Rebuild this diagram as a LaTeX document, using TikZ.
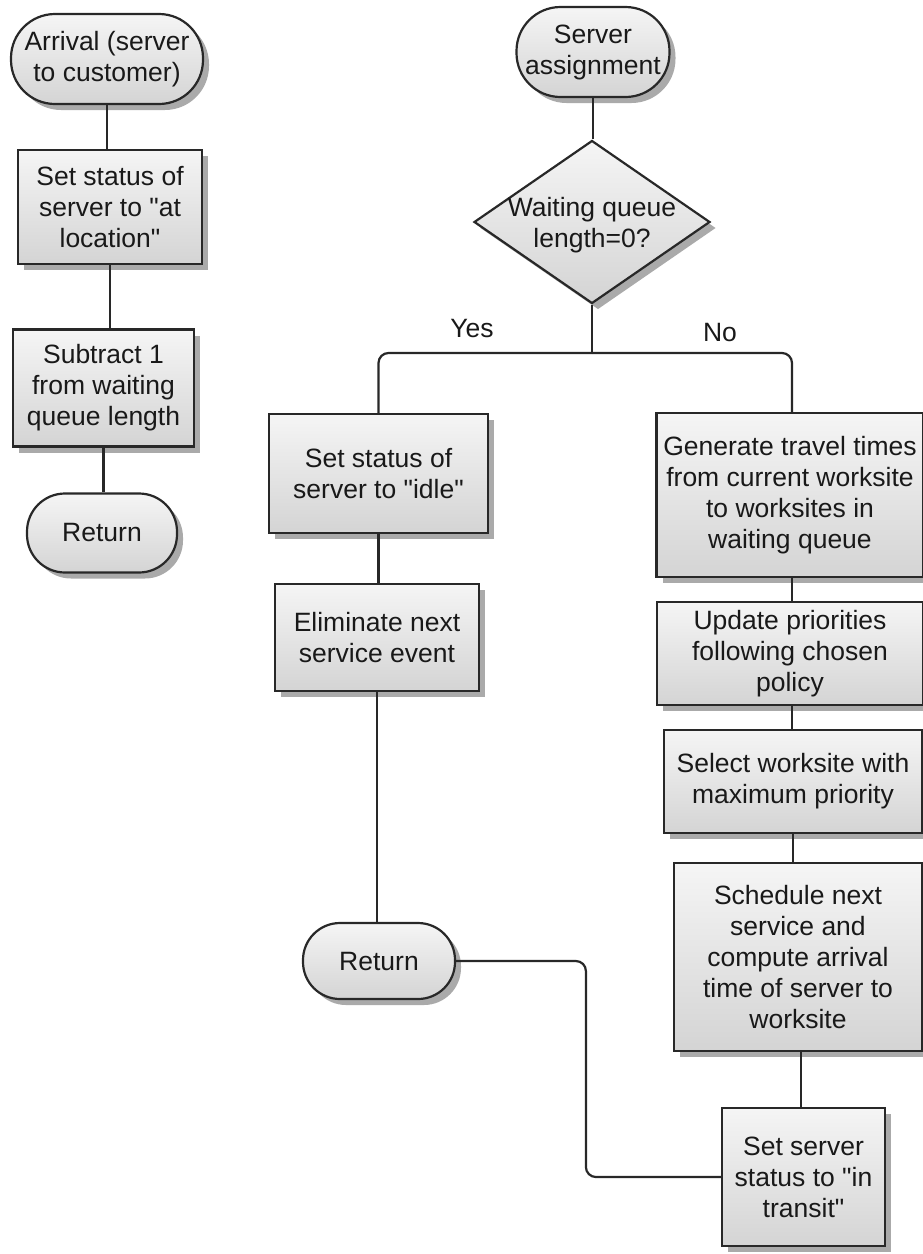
\documentclass[tikz,border=0pt]{standalone}
\usepackage{fontspec}
\setmainfont{Liberation Sans}
\usetikzlibrary{shapes.geometric,shadows}
\definecolor{boxtop}{RGB}{245,245,245}
\definecolor{boxbot}{RGB}{212,212,212}
\definecolor{edgec}{RGB}{40,40,40}
\definecolor{shad}{RGB}{170,170,170}
\newcommand{\dq}{\textquotedbl}
\begin{document}
\begin{tikzpicture}[x=1pt,y=-1pt,
  base/.style={draw=edgec, line width=2.2pt, top color=boxtop, bottom color=boxbot,
    align=center, inner sep=0pt, font=\fontsize{26.5}{31}\selectfont, text=black!90,
    drop shadow={shadow xshift=6pt, shadow yshift=-6pt, fill=shad, opacity=1}},
  procbox/.style={base, rectangle},
  termbox/.style={base, rectangle, rounded corners=#1},
  decbox/.style={base, diamond},
  conn/.style={draw=edgec, line width=2.2pt},
  lbl/.style={font=\fontsize{26.5}{31}\selectfont, text=black!90, align=center}]
\useasboundingbox (0,0) rectangle (923,1254);

% left column
\node[termbox=44pt, minimum width=192pt, minimum height=90pt] (arr) at (107,59) {Arrival (server\\to customer)};
\node[procbox, minimum width=184pt, minimum height=114pt] (s1) at (110,207) {Set status of\\server to \dq at\\location\dq};
\node[procbox, minimum width=181pt, minimum height=117pt] (s2) at (103.5,388) {Subtract 1\\from waiting\\queue length};
\node[termbox=38pt, minimum width=150pt, minimum height=79pt] (ret1) at (102,533) {Return};

\draw[conn] (arr.south) -- (arr.south |- s1.north);
\draw[conn] (s1.south) -- (s1.south |- s2.north);
\draw[conn] (s2.south) -- (s2.south |- ret1.north);

% middle / right
\node[termbox=44pt, minimum width=153pt, minimum height=90pt] (sa) at (593,52) {Server\\assignment};
\node[decbox, minimum width=236pt, minimum height=163pt] (dec) at (592,222) {};
\node[lbl] (dectxt) at (592,225) {Waiting queue\\length=0?};

\node[procbox, minimum width=219pt, minimum height=119pt] (idle) at (378.5,473.5) {Set status of\\server to \dq idle\dq};
\node[procbox, minimum width=204pt, minimum height=107pt] (elim) at (377,637.5) {Eliminate next\\service event};
\node[termbox=37pt, minimum width=152pt, minimum height=76pt] (ret2) at (379,961) {Return};

\node[procbox, minimum width=267pt, minimum height=164pt] (gen) at (790,495) {Generate travel times\\from current worksite\\to worksites in\\waiting queue};
\node[procbox, minimum width=266pt, minimum height=103pt] (upd) at (790,653.5) {Update priorities\\following chosen\\policy};
\node[procbox, minimum width=258pt, minimum height=103pt] (sel) at (793,781.5) {Select worksite with\\maximum priority};
\node[procbox, minimum width=248pt, minimum height=188pt] (sch) at (798,957) {Schedule next\\service and\\compute arrival\\time of server to\\worksite};
\node[procbox, minimum width=163pt, minimum height=138pt] (trans) at (803.5,1177) {Set server\\status to \dq in\\transit\dq};

\coordinate (br) at (592,353);
\draw[conn] (sa.south) -- (sa.south |- dec.north);
\draw[conn] (dec.south) -- (br);
\draw[conn, rounded corners=10pt] (br) -| (idle.north);
\draw[conn, rounded corners=10pt] (br) -| ([xshift=2pt]gen.north);
\node[lbl] (yes) at (472,329) {Yes};
\node[lbl] (no) at (720,333) {No};

\draw[conn] (idle.south) -- (idle.south |- elim.north);
\draw[conn] (elim.south) -- (elim.south |- ret2.north);
\draw[conn] ([xshift=2pt]gen.south) -- ([xshift=2pt]gen.south |- upd.north);
\draw[conn] ([xshift=2pt]upd.south) -- ([xshift=2pt]upd.south |- sel.north);
\draw[conn] (sel.south) -- (sel.south |- sch.north);
\draw[conn] ([xshift=3pt]sch.south) -- ([xshift=3pt]sch.south |- trans.north);
\draw[conn, rounded corners=10pt] (ret2.east) -| ([xshift=-135pt]trans.west) -- (trans.west);
\end{tikzpicture}
\end{document}
